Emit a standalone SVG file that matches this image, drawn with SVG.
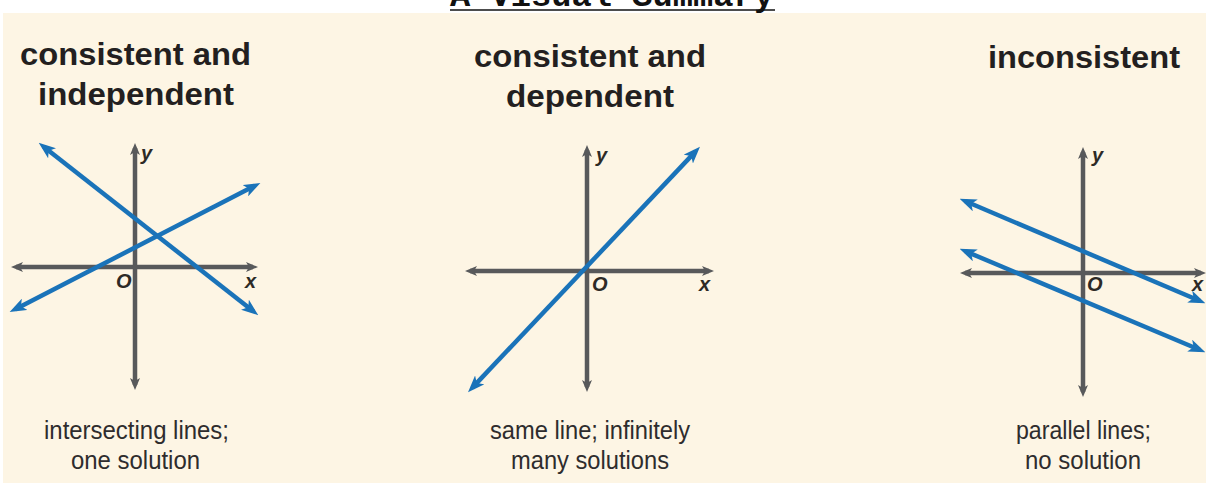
<svg xmlns="http://www.w3.org/2000/svg" width="1206" height="483" viewBox="0 0 1206 483">
<defs>
<style>
.ax{stroke:#58595b;stroke-width:4.5;fill:none;marker-start:url(#ga);marker-end:url(#ga)}
.ln{stroke:#1a73b9;stroke-width:4.5;fill:none;marker-start:url(#ba);marker-end:url(#ba)}
.ttl{font-family:"Liberation Sans",Arial,sans-serif;font-weight:bold;font-size:31px;fill:#231f20;text-anchor:middle}
.cap{font-family:"Liberation Sans",Arial,sans-serif;font-size:25px;fill:#2e2c2d;text-anchor:middle}
.lab{font-family:"Liberation Sans",Arial,sans-serif;font-weight:bold;font-style:italic;font-size:20px;fill:#2d2a26}
</style>
<marker id="ba" viewBox="0 0 16 12" markerWidth="17" markerHeight="13" refX="10" refY="6" orient="auto-start-reverse" markerUnits="userSpaceOnUse">
<path d="M0,0 L16,6 L0,12 L4,6 z" fill="#1a73b9"/>
</marker>
<marker id="ga" viewBox="0 0 12 10" markerWidth="12" markerHeight="10" refX="7" refY="5" orient="auto-start-reverse" markerUnits="userSpaceOnUse">
<path d="M0,0 L12,5 L0,10 L3,5 z" fill="#58595b"/>
</marker>
</defs>
<rect x="0" y="0" width="1206" height="483" fill="#ffffff"/>
<rect x="3" y="13" width="1203" height="470" fill="#fdf5e4"/>
<g id="header">
<text x="612" y="6" font-family="Liberation Mono,'Courier New',monospace" font-weight="bold" font-size="34" fill="#111" text-anchor="middle" textLength="324" lengthAdjust="spacingAndGlyphs">A Visual Summary</text>
<line x1="450" y1="10" x2="775" y2="10" stroke="#111" stroke-width="1.6"/>
</g>
<g id="panel-independent">
<text class="ttl" x="135.5" y="65" textLength="231" lengthAdjust="spacingAndGlyphs">consistent and</text>
<text class="ttl" x="136" y="105" textLength="196" lengthAdjust="spacingAndGlyphs">independent</text>
<line class="ax" x1="16" y1="267" x2="253" y2="267"/>
<line class="ax" x1="135" y1="148" x2="135" y2="385"/>
<text class="lab" x="141" y="160">y</text>
<text class="lab" x="116" y="288">O</text>
<text class="lab" x="245" y="288">x</text>
<text class="cap" x="136.5" y="439" textLength="185" lengthAdjust="spacingAndGlyphs">intersecting lines;</text>
<text class="cap" x="135.5" y="469" textLength="129" lengthAdjust="spacingAndGlyphs">one solution</text>
</g>
<g id="panel-dependent">
<text class="ttl" x="590" y="67" textLength="232" lengthAdjust="spacingAndGlyphs">consistent and</text>
<text class="ttl" x="590" y="107" textLength="168" lengthAdjust="spacingAndGlyphs">dependent</text>
<line class="ax" x1="470" y1="271" x2="709" y2="271"/>
<line class="ax" x1="587" y1="150" x2="587" y2="387"/>
<text class="lab" x="596" y="162">y</text>
<text class="lab" x="592" y="291">O</text>
<text class="lab" x="699" y="291">x</text>
<text class="cap" x="590" y="439" textLength="200" lengthAdjust="spacingAndGlyphs">same line; infinitely</text>
<text class="cap" x="590" y="469" textLength="158" lengthAdjust="spacingAndGlyphs">many solutions</text>
</g>
<g id="panel-inconsistent">
<text class="ttl" x="1084" y="68" textLength="192" lengthAdjust="spacingAndGlyphs">inconsistent</text>
<line class="ax" x1="965" y1="273" x2="1201" y2="273"/>
<line class="ax" x1="1083" y1="152" x2="1083" y2="392"/>
<text class="lab" x="1092" y="162">y</text>
<text class="lab" x="1087" y="291">O</text>
<text class="lab" x="1192" y="291">x</text>
<text class="cap" x="1083.5" y="439" textLength="135" lengthAdjust="spacingAndGlyphs">parallel lines;</text>
<text class="cap" x="1083" y="469" textLength="116" lengthAdjust="spacingAndGlyphs">no solution</text>
</g>
<g id="connectors">
<line class="ln" x1="43.7" y1="146.7" x2="253.3" y2="311.3"/>
<line class="ln" x1="15.3" y1="309.2" x2="254.7" y2="185.8"/>
<line class="ln" x1="472.4" y1="387.6" x2="695.6" y2="151.4"/>
<line class="ln" x1="965.5" y1="201.3" x2="1199.5" y2="300.7"/>
<line class="ln" x1="965.5" y1="251.3" x2="1199.5" y2="349.7"/>
</g>
</svg>
